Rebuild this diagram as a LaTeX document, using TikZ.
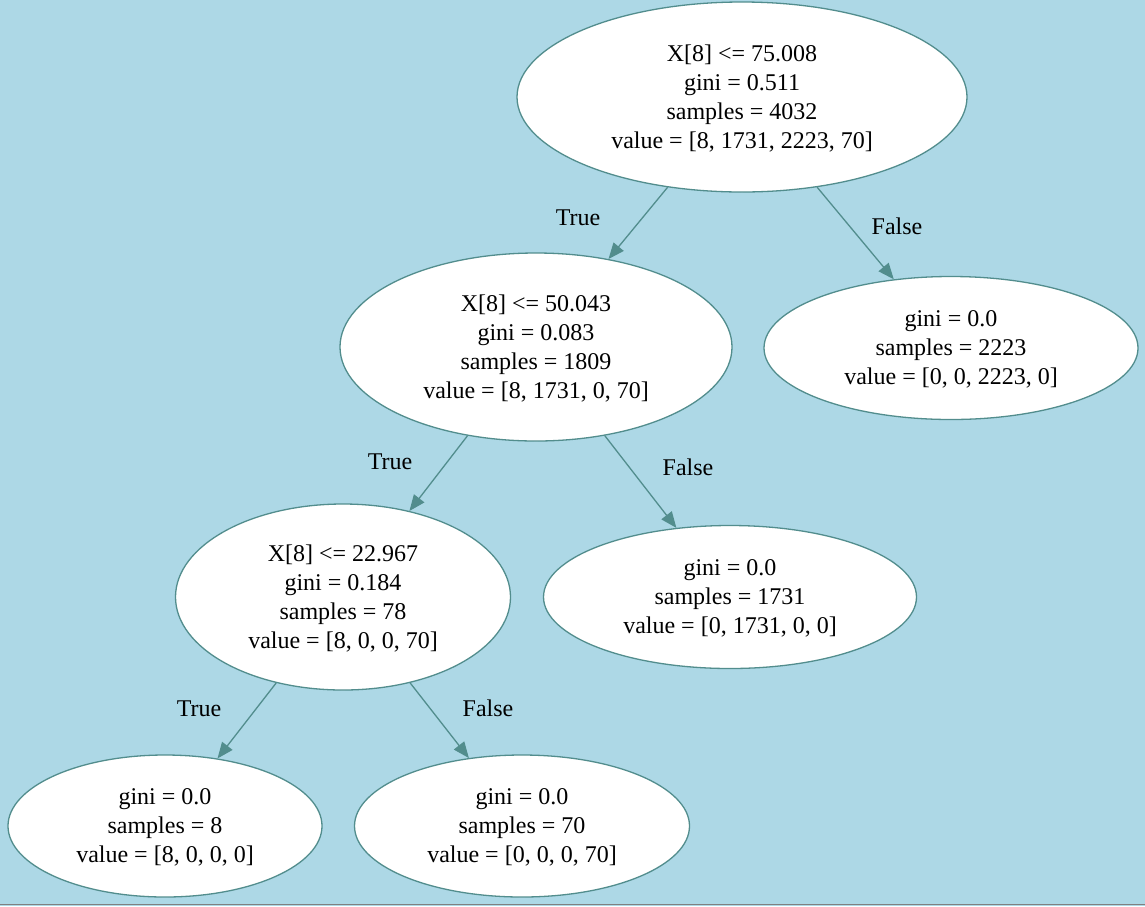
\documentclass[tikz,border=0pt]{standalone}
\usepackage{fontspec}
\setmainfont{Liberation Serif}
\usepackage{tikz}
\usetikzlibrary{shapes.geometric}
\usetikzlibrary{arrows.meta}
\usepackage{xcolor}
\definecolor{bgblue}{RGB}{173,216,230}
\definecolor{treeteal}{RGB}{82,141,141}

\begin{document}
\begin{tikzpicture}[x=1pt, y=-1pt]
        % ================= 样式定义 =================
        \tikzset{
            % 节点样式:白底青边椭圆
            tnode/.style={ellipse, draw=treeteal, line width=1.3pt, fill=white, inner sep=0pt, align=center, font=\fontsize{24}{29}\selectfont, text depth=-9pt},
            % 边样式:青色实心三角箭头
            tedge/.style={treeteal, line width=1.3pt, -{Triangle[length=16pt, width=13pt]}},
            % 边标签
            tlabel/.style={font=\fontsize{24}{29}\selectfont}
        }

        % ================= 背景 =================
        \fill[bgblue] (0,0) rectangle (1145,906);
        \useasboundingbox (0,0) rectangle (1145,906);
        \draw[gray, line width=1.5pt] (0,904.5) -- (1145,904.5);

        % 1. 放置节点
        \node[tnode, minimum width=450, minimum height=190] (root) at (742,97)
            {X[8] <= 75.008\\gini = 0.511\\samples = 4032\\value = [8, 1731, 2223, 70]};
        \node[tnode, minimum width=392, minimum height=188] (split1) at (536,347)
            {X[8] <= 50.043\\gini = 0.083\\samples = 1809\\value = [8, 1731, 0, 70]};
        \node[tnode, minimum width=374, minimum height=143] (leafA) at (951,348)
            {gini = 0.0\\samples = 2223\\value = [0, 0, 2223, 0]};
        \node[tnode, minimum width=335, minimum height=186] (split2) at (343,597)
            {X[8] <= 22.967\\gini = 0.184\\samples = 78\\value = [8, 0, 0, 70]};
        \node[tnode, minimum width=373, minimum height=143] (leafB) at (730,597)
            {gini = 0.0\\samples = 1731\\value = [0, 1731, 0, 0]};
        \node[tnode, minimum width=314, minimum height=142] (leafC) at (165,826)
            {gini = 0.0\\samples = 8\\value = [8, 0, 0, 0]};
        \node[tnode, minimum width=335, minimum height=142] (leafD) at (522,826)
            {gini = 0.0\\samples = 70\\value = [0, 0, 0, 70]};

        % 2. 绘制边
        \draw[tedge] (root) -- (split1);
        \draw[tedge] (root) -- (leafA);
        \draw[tedge] (split1) -- (split2);
        \draw[tedge] (split1) -- (leafB);
        \draw[tedge] (split2) -- (leafC);
        \draw[tedge] (split2) -- (leafD);

        % 3. 边标签
        \node[tlabel] (t1) at (578,218) {True};
        \node[tlabel] (f1) at (897,226) {False};
        \node[tlabel] (t2) at (390,462) {True};
        \node[tlabel] (f2) at (688,467) {False};
        \node[tlabel] (t3) at (199,709) {True};
        \node[tlabel] (f3) at (488,708) {False};

    \end{tikzpicture}
\end{document}
